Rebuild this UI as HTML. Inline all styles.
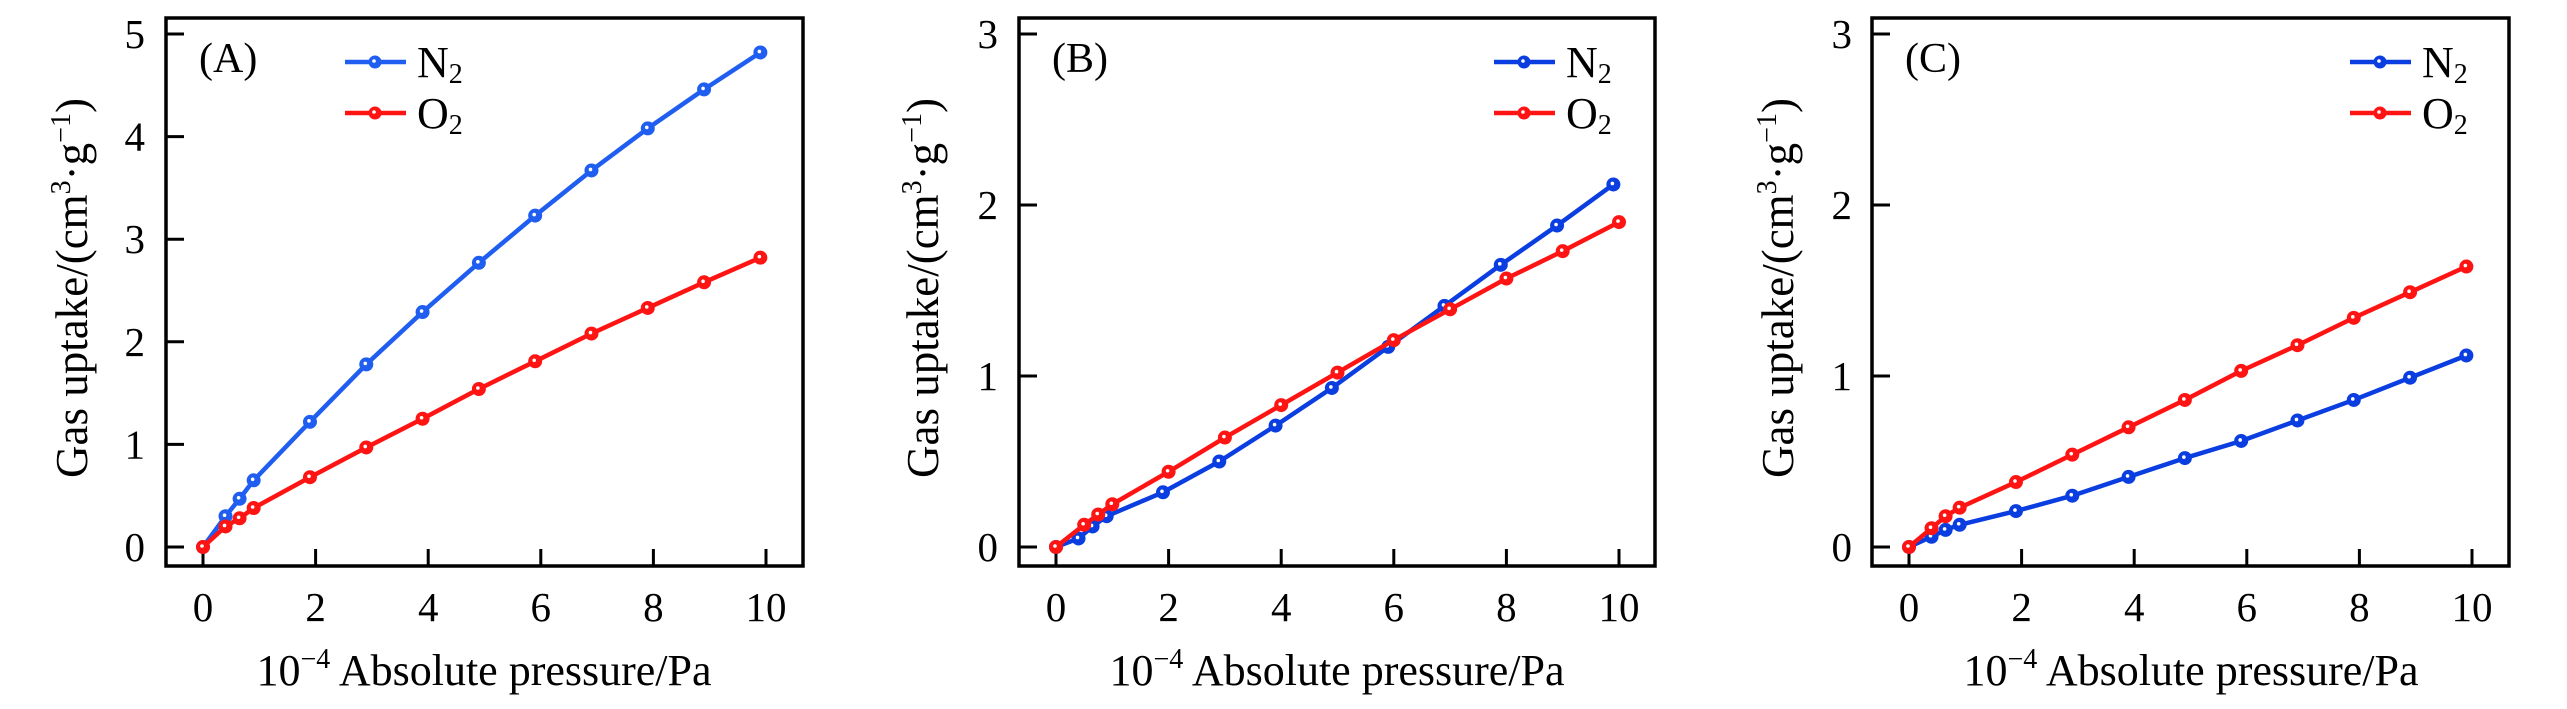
<!DOCTYPE html>
<html><head><meta charset="utf-8"><style>
html,body{margin:0;padding:0;background:#fff;}
svg{display:block;font-family:"Liberation Serif",serif;}
</style></head><body>
<svg id="chart" width="2567" height="709" viewBox="0 0 2567 709"></svg>
<script>
// ---- data ----
const xN_A = [0,0.4,0.65,0.9,1.9,2.9,3.9,4.9,5.9,6.9,7.9,8.9,9.9];
const yN_A = [0,0.3,0.47,0.65,1.22,1.78,2.29,2.77,3.23,3.67,4.08,4.46,4.82];
const xO_A = [0,0.4,0.65,0.9,1.9,2.9,3.9,4.9,5.9,6.9,7.9,8.9,9.9];
const yO_A = [0,0.2,0.28,0.38,0.68,0.97,1.25,1.54,1.81,2.08,2.33,2.58,2.82];
const xN_B = [0,0.4,0.65,0.9,1.9,2.9,3.9,4.9,5.9,6.9,7.9,8.9,9.9];
const yN_B = [0,0.05,0.12,0.18,0.32,0.5,0.71,0.93,1.17,1.41,1.65,1.88,2.12];
const xO_B = [0,0.5,0.75,1.0,2.0,3.0,4.0,5.0,6.0,7.0,8.0,9.0,10.0];
const yO_B = [0,0.13,0.19,0.25,0.44,0.64,0.83,1.02,1.21,1.39,1.57,1.73,1.90];
const xN_C = [0,0.4,0.65,0.9,1.9,2.9,3.9,4.9,5.9,6.9,7.9,8.9,9.9];
const yN_C = [0,0.06,0.1,0.13,0.21,0.3,0.41,0.52,0.62,0.74,0.86,0.99,1.12];
const xO_C = [0,0.4,0.65,0.9,1.9,2.9,3.9,4.9,5.9,6.9,7.9,8.9,9.9];
const yO_C = [0,0.11,0.18,0.23,0.38,0.54,0.7,0.86,1.03,1.18,1.34,1.49,1.64];
const xTicks = [0,2,4,6,8,10];
const yTicksA = [0,1,2,3,4,5];
const yTicksBC = [0,1,2,3];
const panelLabels = ["(A)","(B)","(C)"];

const NS="http://www.w3.org/2000/svg";
const svg=document.getElementById('chart');
function mk(tag,attrs,parent){const e=document.createElementNS(NS,tag);for(const k in attrs)e.setAttribute(k,attrs[k]);(parent||svg).appendChild(e);return e;}

const panels=[
 {id:'a',L:166,R:803,T:18,B:566,x0:203,x10:766,yMax:5,yTicks:yTicksA,blue:'#1f5ef0',
  series:[[xN_A,yN_A],[xO_A,yO_A]],lab:0,legX:345,ylabX:72,tickR:145,xtitle:484},
 {id:'b',L:1019,R:1655,T:18,B:566,x0:1056,x10:1619,yMax:3,yTicks:yTicksBC,blue:'#0b3ee0',
  series:[[xN_B,yN_B],[xO_B,yO_B]],lab:1,legX:1494,ylabX:923,tickR:998,xtitle:1337},
 {id:'c',L:1872,R:2509,T:18,B:566,x0:1909,x10:2472,yMax:3,yTicks:yTicksBC,blue:'#0b3ee0',
  series:[[xN_C,yN_C],[xO_C,yO_C]],lab:2,legX:2350,ylabX:1778,tickR:1852,xtitle:2191}
];
const RED='#ff1414';
const Y0=547, YTOP=34;

panels.forEach(p=>{
  const g=mk('g',{});
  
  
  const sx=v=>p.x0+(p.x10-p.x0)*v/10;
  const sy=v=>Y0-(Y0-YTOP)*v/p.yMax;
  const fr=mk('rect',{x:p.L,y:p.T,width:p.R-p.L,height:p.B-p.T,fill:'none',stroke:'#000','stroke-width':3.5},g);
  
  
  xTicks.forEach(t=>{
    const ln=mk('line',{x1:sx(t),x2:sx(t),y1:p.B,y2:p.B-17,stroke:'#000','stroke-width':3},g);
    
    
    const tx=mk('text',{x:sx(t),y:621,'font-size':41,'text-anchor':'middle'},g);
    tx.textContent=t;
    
    
  });
  p.yTicks.forEach(t=>{
    const ln=mk('line',{x1:p.L,x2:p.L+18,y1:sy(t),y2:sy(t),stroke:'#000','stroke-width':3},g);
    
    
    const tx=mk('text',{x:p.tickR,y:sy(t)+14,'font-size':41,'text-anchor':'end'},g);
    tx.textContent=t;
    
    
  });
  const yt=mk('text',{x:0,y:0,'font-size':45,'text-anchor':'middle',transform:`translate(${p.ylabX+15},288) rotate(-90)`},g);
  yt.innerHTML='Gas uptake/(cm<tspan font-size="28" dy="-17">3</tspan><tspan dy="17">·g</tspan><tspan font-size="28" dy="-17">−1</tspan><tspan dy="17">)</tspan>';
  
  
  const xt=mk('text',{x:p.xtitle,y:685,'font-size':44,'text-anchor':'middle'},g);
  xt.innerHTML='10<tspan font-size="28" dy="-17">−4</tspan><tspan dy="17"> Absolute pressure/Pa</tspan>';
  
  
  const pl=mk('text',{x:p.L+33,y:72,'font-size':42},g);
  pl.textContent=panelLabels[p.lab];
  
  
  const cols=[p.blue,RED], names=['n2','o2'];
  p.series.forEach((s,i)=>{
    const [xs,ys]=s;
    const pts=xs.map((x,j)=>sx(x)+','+sy(ys[j])).join(' ');
    const pl2=mk('polyline',{points:pts,fill:'none',stroke:cols[i],'stroke-width':4.5,'stroke-linejoin':'round'},g);
    
    
    xs.forEach((x,j)=>{
      const c=mk('circle',{cx:sx(x),cy:sy(ys[j]),r:6,fill:cols[i],stroke:cols[i],'stroke-width':2},g);
      
      
      const d=mk('circle',{cx:sx(x)-1,cy:sy(ys[j])-1,r:1.8,fill:'#fff'},g);
      
      
    });
  });
  const lg=[['N',62,cols[0]],['O',113,cols[1]]];
  lg.forEach((e,i)=>{
    const lgG=mk('g',{},g);
    
    
    mk('line',{x1:p.legX,x2:p.legX+61,y1:e[1],y2:e[1],stroke:e[2],'stroke-width':4.5},lgG);
    mk('circle',{cx:p.legX+30,cy:e[1],r:6.5,fill:e[2]},lgG);
    mk('circle',{cx:p.legX+29,cy:e[1]-1,r:1.8,fill:'#fff'},lgG);
    const t=mk('text',{x:p.legX+72,y:e[1]+15,'font-size':44},lgG);
    t.innerHTML=e[0]+'<tspan font-size="28" dy="6">2</tspan>';
  });
});
</script>
</body></html>
